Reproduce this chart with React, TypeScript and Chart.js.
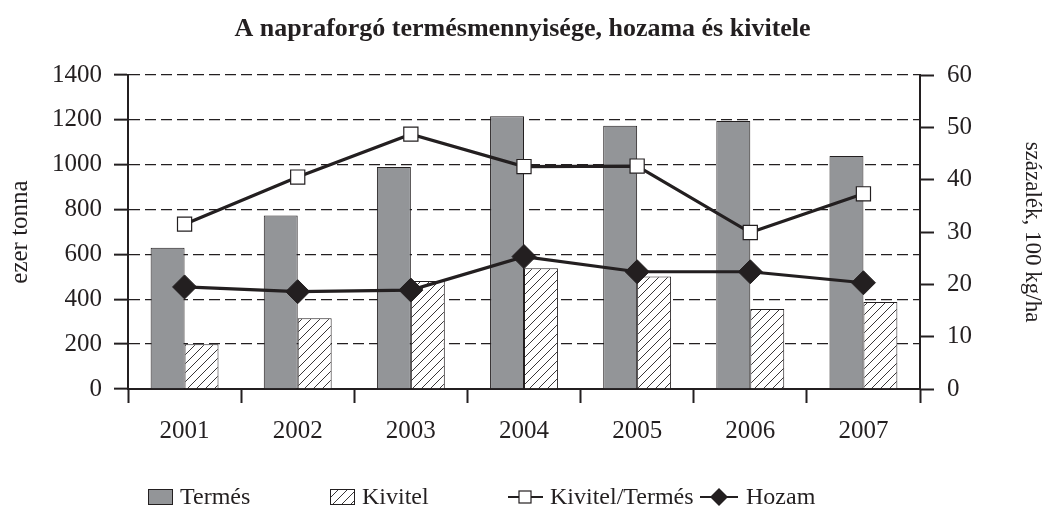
import React, { useEffect, useRef } from "react";
import { Chart, registerables } from "chart.js";

Chart.register(...registerables);

const titleText = "A napraforgó termésmennyisége, hozama és kivitele";
const categories = ["2001", "2002", "2003", "2004", "2005", "2006", "2007"];
const termes = [630, 774, 990, 1216, 1174, 1195, 1039];
const kivitel = [199, 315, 481, 538, 502, 357, 388];
const kivitelPerTermes = [31.5, 40.5, 48.7, 42.5, 42.6, 29.9, 37.3];
const hozam = [19.5, 18.6, 18.9, 25.3, 22.4, 22.4, 20.3];
const seriesLabels = ["Termés", "Kivitel", "Kivitel/Termés", "Hozam"];
const leftAxisTitle = "ezer tonna";
const rightAxisTitle = "százalék, 100 kg/ha";

const FONT = '"Liberation Serif", "Times New Roman", serif';
const INK = "#231f20";
const GRAY = "#939598";

function makeHatch(): CanvasPattern | string {
  const c = document.createElement("canvas");
  const s = 9;
  c.width = s;
  c.height = s;
  const g = c.getContext("2d");
  if (!g) return "#fff";
  g.fillStyle = "#ffffff";
  g.fillRect(0, 0, s, s);
  g.strokeStyle = INK;
  g.lineWidth = 0.9;
  g.beginPath();
  g.moveTo(0, s);
  g.lineTo(s, 0);
  g.moveTo(-2, 2);
  g.lineTo(2, -2);
  g.moveTo(s - 2, s + 2);
  g.lineTo(s + 2, s - 2);
  g.stroke();
  const p = g.createPattern(c, "repeat");
  return p || "#fff";
}

const legendPlugin = {
  id: "customLegend",
  afterDraw(chart: any) {
    const ctx = chart.ctx as CanvasRenderingContext2D;
    const ds = chart.data.datasets;
    const y = 497;
    ctx.save();
    ctx.font = `24px ${FONT}`;
    ctx.textBaseline = "middle";
    ctx.textAlign = "left";
    // Termés box
    ctx.fillStyle = ds[0].backgroundColor;
    ctx.fillRect(148, y - 8, 25, 16);
    ctx.strokeStyle = INK;
    ctx.lineWidth = 1;
    ctx.strokeRect(148.5, y - 7.5, 24, 15);
    ctx.fillStyle = INK;
    ctx.fillText(ds[0].label, 180, y + 1);
    // Kivitel box
    ctx.fillStyle = ds[1].backgroundColor;
    ctx.fillRect(330, y - 8, 25, 16);
    ctx.strokeRect(330.5, y - 7.5, 24, 15);
    ctx.fillStyle = INK;
    ctx.fillText(ds[1].label, 362, y + 1);
    // Kivitel/Termés line + square
    ctx.strokeStyle = INK;
    ctx.lineWidth = 2;
    ctx.beginPath();
    ctx.moveTo(508, y);
    ctx.lineTo(543, y);
    ctx.stroke();
    ctx.fillStyle = "#fff";
    ctx.fillRect(519, y - 6, 12, 12);
    ctx.lineWidth = 1.2;
    ctx.strokeRect(519, y - 6, 12, 12);
    ctx.fillStyle = INK;
    ctx.fillText(ds[2].label, 550, y + 1);
    // Hozam line + diamond
    ctx.lineWidth = 2;
    ctx.beginPath();
    ctx.moveTo(700, y);
    ctx.lineTo(738, y);
    ctx.stroke();
    ctx.beginPath();
    ctx.moveTo(719, y - 9);
    ctx.lineTo(728, y);
    ctx.lineTo(719, y + 9);
    ctx.lineTo(710, y);
    ctx.closePath();
    ctx.fill();
    ctx.fillText(ds[3].label, 746, y + 1);
    ctx.restore();
  },
};

const plainTick = (v: any) => String(v);

export default function App() {
  const ref = useRef<HTMLCanvasElement | null>(null);

  useEffect(() => {
    const canvas = ref.current;
    if (!canvas) return;
    const hatch = makeHatch();
    const chart = new Chart(canvas, {
      type: "bar",
      data: {
        labels: categories,
        datasets: [
          {
            type: "bar",
            label: seriesLabels[0],
            data: termes,
            backgroundColor: GRAY,
            borderColor: INK,
            borderWidth: 1,
            yAxisID: "y",
            order: 2,
            categoryPercentage: 0.6,
            barPercentage: 1.0,
          },
          {
            type: "bar",
            label: seriesLabels[1],
            data: kivitel,
            backgroundColor: hatch as any,
            borderColor: INK,
            borderWidth: 1,
            yAxisID: "y",
            order: 2,
            categoryPercentage: 0.6,
            barPercentage: 1.0,
          },
          {
            type: "line",
            label: seriesLabels[2],
            data: kivitelPerTermes,
            borderColor: INK,
            borderWidth: 3.2,
            pointStyle: "rect",
            pointRadius: 10,
            pointBackgroundColor: "#ffffff",
            pointBorderColor: INK,
            pointBorderWidth: 1.2,
            yAxisID: "y1",
            order: 0,
            tension: 0,
          } as any,
          {
            type: "line",
            label: seriesLabels[3],
            data: hozam,
            borderColor: INK,
            borderWidth: 3.2,
            pointStyle: "rectRot",
            pointRadius: 12,
            pointBackgroundColor: INK,
            pointBorderColor: INK,
            pointBorderWidth: 1,
            yAxisID: "y1",
            order: 1,
            tension: 0,
          } as any,
        ],
      },
      options: {
        responsive: false,
        animation: false,
        layout: { padding: { top: 0, left: 0, right: 0, bottom: 0 } },
        plugins: {
          legend: { display: false },
          tooltip: { enabled: false },
          title: {
            display: true,
            text: titleText,
            color: INK,
            font: { family: FONT, size: 26, weight: "bold", lineHeight: 1.2 },
            padding: { top: 14, bottom: 29.8 },
          },
        },
        scales: {
          x: {
            offset: true,
            grid: {
              offset: true,
              drawOnChartArea: false,
              drawTicks: true,
              tickLength: 14,
              tickWidth: 2,
              tickColor: INK,
              color: INK,
            },
            border: { display: true, color: INK, width: 2 },
            ticks: {
              color: INK,
              font: { family: FONT, size: 25 },
              padding: 13,
            },
            afterFit(scale: any) {
              scale.height = 526 - 389;
            },
          },
          y: {
            position: "left",
            min: 0,
            max: 1400,
            ticks: {
              stepSize: 200,
              color: INK,
              font: { family: FONT, size: 25 },
              padding: 12,
              callback: plainTick,
            },
            grid: {
              color: INK,
              lineWidth: 1.3,
              tickLength: 14,
              tickWidth: 2,
              tickColor: INK,
            },
            border: { display: true, color: INK, width: 2, dash: [11, 5] },
            title: {
              display: true,
              text: leftAxisTitle,
              color: INK,
              font: { family: FONT, size: 25, lineHeight: 1.2 },
              padding: { top: 5, bottom: 0 },
            },
            afterFit(scale: any) {
              scale.width = 128;
            },
          },
          y1: {
            position: "right",
            min: 0,
            max: 60,
            ticks: {
              stepSize: 10,
              color: INK,
              font: { family: FONT, size: 25 },
              padding: 13,
              callback: plainTick,
            },
            grid: {
              drawOnChartArea: false,
              tickLength: 14,
              tickWidth: 2,
              tickColor: INK,
              color: INK,
            },
            border: { display: true, color: INK, width: 2 },
            title: {
              display: true,
              text: rightAxisTitle,
              color: INK,
              font: { family: FONT, size: 23, lineHeight: 1.0 },
              padding: { top: 1, bottom: 0 },
            },
            afterFit(scale: any) {
              scale.width = 1045 - 920;
            },
          },
        },
      },
      plugins: [legendPlugin],
    });
    return () => chart.destroy();
  }, []);

  return (
    <div style={{ position: "absolute", left: 0, top: 0, width: 1045, height: 526, background: "#fff" }}>
      <canvas ref={ref} width={1045} height={526} style={{ display: "block" }} />
    </div>
  );
}
